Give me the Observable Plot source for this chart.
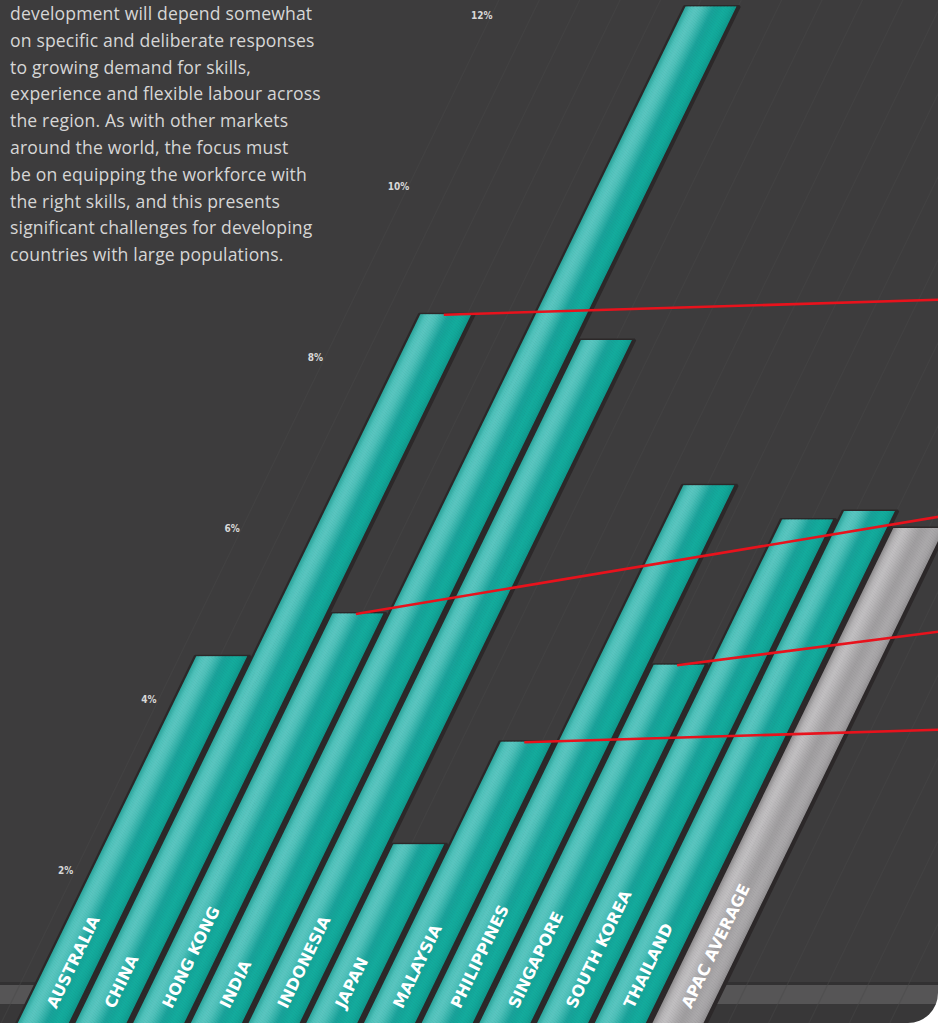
<!DOCTYPE html>
<html>
<head>
<meta charset="utf-8">
<script src="https://cdn.jsdelivr.net/npm/d3@7"></script>
<script src="https://cdn.jsdelivr.net/npm/@observablehq/plot@0.6"></script>
<style>
  html, body { margin: 0; padding: 0; background: #ffffff; overflow: hidden; }
  #wrap {
    position: relative; width: 938px; height: 1023px; overflow: hidden;
    border-bottom-right-radius: 30px;
    background: linear-gradient(to bottom,
      #3d3c3d 0px, #3d3c3d 982px, #323132 982px, #323132 985px,
      #565556 985px, #565556 1004px, #383738 1004px, #383738 1023px);
  }
  #intro {
    position: absolute; left: 10px; top: 0px;
    font-family: "Open Sans", sans-serif; font-size: 17.6px; line-height: 26.8px;
    color: #d6d6d6; letter-spacing: 0.15px; white-space: nowrap;
  }
  #chart { position: absolute; left: 0; top: 0; }
  #chart svg { display: block; background: transparent; }
</style>
</head>
<body>
<div id="wrap">
  <div id="chart"></div>
  <div id="intro"></div>
</div>
<script>
// ---------- data ----------
const countries = ["AUSTRALIA", "CHINA", "HONG KONG", "INDIA", "INDONESIA", "JAPAN",
  "MALAYSIA", "PHILIPPINES", "SINGAPORE", "SOUTH KOREA", "THAILAND", "APAC AVERAGE"];
const values = [4.5, 8.5, 5.0, 12.1, 8.2, 2.3, 3.5, 6.5, 4.4, 6.1, 6.2, 6.0];
const averageLabel = "APAC AVERAGE";
const tickValues = [2, 4, 6, 8, 10, 12];
const tickLabels = ["2%", "4%", "6%", "8%", "10%", "12%"];
// leader lines: bar they start from, and the level (in %) where they leave the page on the right
const calloutCountries = ["CHINA", "HONG KONG", "SINGAPORE", "MALAYSIA"];
const calloutEnds = [8.68, 6.16, 4.81, 3.65];
const introLines = [
  "development will depend somewhat",
  "on specific and deliberate responses",
  "to growing demand for skills,",
  "experience and flexible labour across",
  "the region. As with other markets",
  "around the world, the focus must",
  "be on equipping the workforce with",
  "the right skills, and this presents",
  "significant challenges for developing",
  "countries with large populations."
];

// ---------- styling / geometry constants ----------
const W = 938, H = 1023;
const PITCH = 57.7;          // px between bars
const LEFT0 = 9;             // px of first bar's left edge at 0%
const SLANT = 0.721;         // horizontal shift (in bar slots) per 1%
const BW = 0.884;            // bar width in slots
const tealStops = ["#2aa59c", "#4fc2bb", "#5ac7c1", "#4fc1ba", "#35b3ab",
  "#1aa39b", "#14a69a", "#14ad9e", "#12a799", "#0e988c"];
const greyStops = ["#8f8d8f", "#b7b5b7", "#c2c0c2", "#b9b7b9", "#aaa8aa",
  "#a09ea0", "#a5a3a5", "#acaaac", "#a6a4a6", "#939193"];
const K = 36;
const tealAt = d3.piecewise(d3.interpolateRgb, tealStops);
const greyAt = d3.piecewise(d3.interpolateRgb, greyStops);
const rot = -Math.atan2(1, SLANT * PITCH / 85.5) * 180 / Math.PI; // bar direction

document.getElementById("intro").innerHTML = introLines.join("<br>");

// ---------- derived tables ----------
const bars = countries.map((c, i) => ({country: c, i, v: values[i], avg: c === averageLabel}));
const strips = [];
for (const b of bars) {
  const colorAt = b.avg ? greyAt : tealAt;
  for (let k = 0; k < K; k++) {
    const a = BW * k / K, e = BW * (k + 1) / K + (k < K - 1 ? 0.01 : 0);
    const fill = colorAt((k + 0.5) / K);
    for (const y of [0, b.v]) {
      strips.push({z: b.country + k, y, x1: b.i + SLANT * y + a, x2: b.i + SLANT * y + e, fill});
    }
  }
}
const shadows = [];
for (const b of bars) {
  for (const y of [0, b.v]) shadows.push({z: b.country, y, x1: b.i + SLANT * y - 0.015, x2: b.i + SLANT * y + BW + 0.05});
}
const gridStarts = d3.range(-0.3, 17, 0.7);
const idx = c => countries.indexOf(c);

const xMin = -LEFT0 / PITCH, xMax = (W - LEFT0) / PITCH;
const v0 = 0.4; // level at which the bar names start

const chart = Plot.plot({
  width: W, height: H,
  marginTop: 0, marginRight: 0, marginBottom: 0, marginLeft: 0,
  style: {background: "transparent", overflow: "hidden"},
  x: {domain: [xMin, xMax], range: [0, W], axis: null},
  y: {domain: [0, 12], range: [1041, 15], axis: null},
  color: {type: "identity"},
  marks: [
    // faint slanted background lines
    Plot.link(gridStarts, {x1: d => d, y1: 0, x2: d => d + SLANT * 12.5, y2: 12.5,
      stroke: "#4a494a", strokeWidth: 1.2, strokeOpacity: 0.45}),
    // dark shadows around bars
    Plot.areaX(shadows, {x1: "x1", x2: "x2", y: "y", z: "z", fill: "#2c2829",
      stroke: "#2c2829", strokeWidth: 3, strokeLinejoin: "miter"}),
    // bars (drawn as shaded strips)
    Plot.areaX(strips, {x1: "x1", x2: "x2", y: "y", z: "z", fill: "fill"}),
    // percentage ticks along the slanted axis
    Plot.text(tickValues, {x: v => -0.468 + SLANT * v, y: v => v, text: (v, i) => tickLabels[i],
      fill: "#d8d8d8", fontSize: 10, fontWeight: "bold", fontFamily: "DejaVu Sans Condensed, DejaVu Sans, sans-serif"}),
    // bar names
    Plot.text(bars, {x: b => b.i + BW / 2 + SLANT * v0, y: () => v0, text: "country",
      rotate: rot, textAnchor: "start", lineAnchor: "middle",
      fill: "#ffffff", fontSize: 16, fontWeight: "bold", fontFamily: "DejaVu Sans, sans-serif"}),
    // red leader lines
    Plot.link(calloutCountries, {
      x1: c => idx(c) + BW * 0.45 + SLANT * values[idx(c)], y1: c => values[idx(c)],
      x2: () => xMax + 0.2, y2: (c, i) => calloutEnds[i],
      stroke: "#e8121c", strokeWidth: 2.6})
  ]
});
document.getElementById("chart").appendChild(chart);
</script>
</body>
</html>
